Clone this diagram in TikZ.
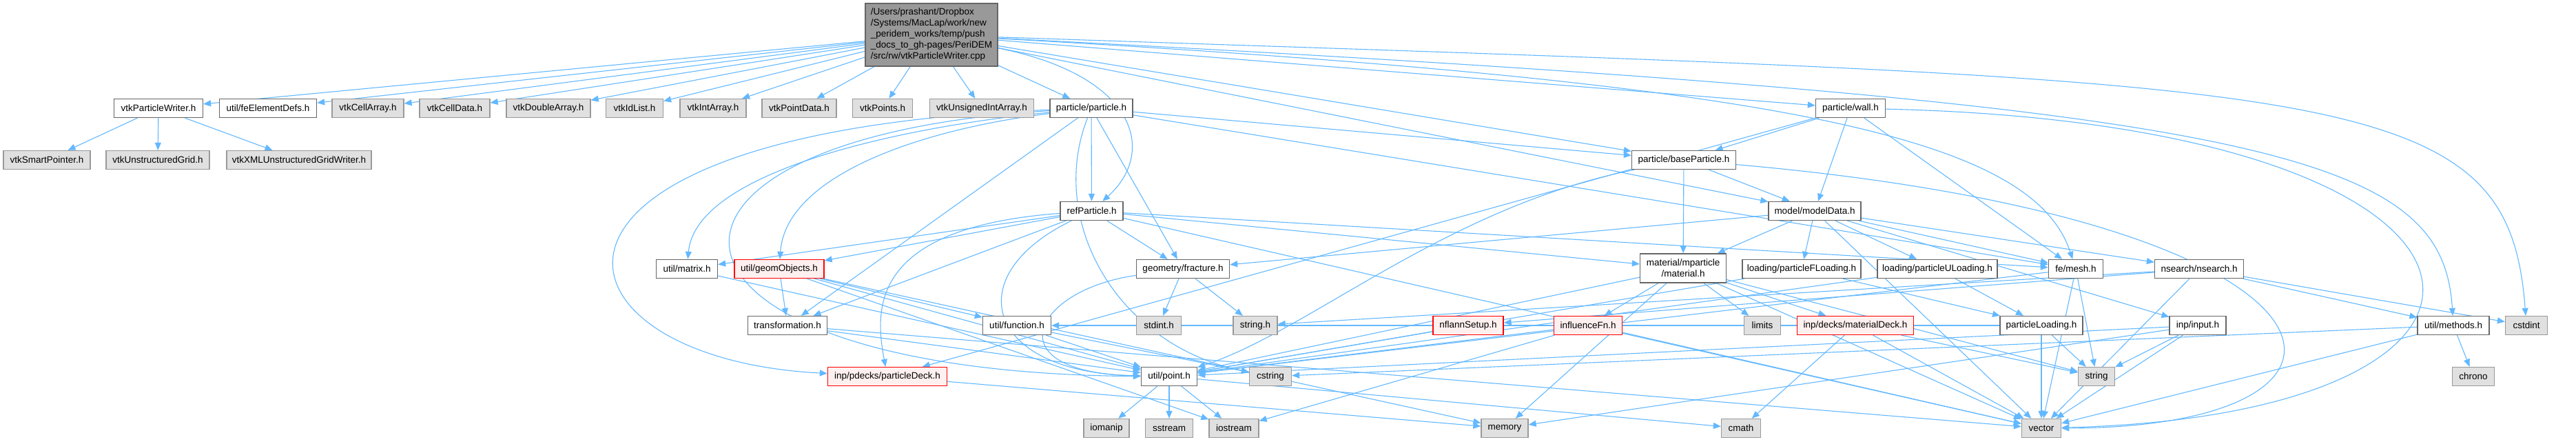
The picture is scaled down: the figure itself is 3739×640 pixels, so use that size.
\documentclass[tikz,border=0pt]{standalone}
\usepackage{fontspec}
\setmainfont{Liberation Sans}
\usetikzlibrary{arrows.meta,backgrounds}
\definecolor{edgec}{HTML}{63B8FF}
\definecolor{nodeborder}{HTML}{666666}
\definecolor{grayborder}{HTML}{999999}
\definecolor{grayfill}{HTML}{E0E0E0}
\definecolor{redfill}{HTML}{FFF0F0}
\definecolor{mainfill}{HTML}{999999}
\begin{document}
\begin{tikzpicture}[x=1pt,y=-1pt,
  nb/.style={draw=nodeborder, fill=white, line width=1.3pt, minimum height=27pt, inner sep=0pt, font=\fontsize{13.5}{16}\selectfont, text=black},
  gb/.style={nb, draw=grayborder, fill=grayfill},
  rb/.style={nb, draw=red, fill=redfill},
  e/.style={draw=edgec, line width=1.1pt, -{Triangle[length=11pt,width=9pt]}}]
\useasboundingbox (0,0) rectangle (3739,640);

% row 0
\node[nb, fill=mainfill, minimum width=192pt, minimum height=91pt, align=left] (main) at (1352,50.5)
 {/Users/prashant/Dropbox\\/Systems/MacLap/work/new\\\_peridem\_works/temp/push\\\_docs\_to\_gh-pages/PeriDEM\\/src/rw/vtkParticleWriter.cpp};
% row 1
\node[nb, minimum width=129pt] (vpw) at (230,157) {vtkParticleWriter.h};
\node[nb, minimum width=141pt] (fed) at (389,157) {util/feElementDefs.h};
\node[gb, minimum width=104pt] (vca) at (534,157) {vtkCellArray.h};
\node[gb, minimum width=102pt] (vcd) at (660,157) {vtkCellData.h};
\node[gb, minimum width=122pt] (vda) at (796,157) {vtkDoubleArray.h};
\node[gb, minimum width=83pt] (vil) at (921,157) {vtkIdList.h};
\node[gb, minimum width=96pt] (via) at (1035,157) {vtkIntArray.h};
\node[gb, minimum width=108pt] (vpd) at (1160,157) {vtkPointData.h};
\node[gb, minimum width=87pt] (vps) at (1281,157) {vtkPoints.h};
\node[gb, minimum width=151pt] (vuia) at (1425,157) {vtkUnsignedIntArray.h};
\node[nb, minimum width=120pt] (part) at (1584,157) {particle/particle.h};
\node[nb, minimum width=101pt] (wall) at (2686,157) {particle/wall.h};
% row 2
\node[gb, minimum width=126pt] (vsp) at (68,232) {vtkSmartPointer.h};
\node[gb, minimum width=150pt] (vug) at (229,232) {vtkUnstructuredGrid.h};
\node[gb, minimum width=210pt] (vxml) at (434,232) {vtkXMLUnstructuredGridWriter.h};
\node[nb, minimum width=151pt] (base) at (2444,232) {particle/baseParticle.h};
% row 3
\node[nb, minimum width=91pt] (ref) at (1584.5,306) {refParticle.h};
\node[nb, minimum width=134pt] (model) at (2634,306) {model/modelData.h};
% row 4
\node[nb, minimum width=89pt] (matrix) at (997,390) {util/matrix.h};
\node[rb, minimum width=130pt] (geom) at (1131,390) {util/geomObjects.h};
\node[nb, minimum width=135pt] (frac) at (1717,390) {geometry/fracture.h};
\node[nb, minimum width=125pt, minimum height=42pt, align=center] (mat) at (2443,389) {material/mparticle\\/material.h};
\node[nb, minimum width=172pt] (pfl) at (2615,390) {loading/particleFLoading.h};
\node[nb, minimum width=174pt] (pul) at (2812,390) {loading/particleULoading.h};
\node[nb, minimum width=79pt] (mesh) at (3013,390) {fe/mesh.h};
\node[nb, minimum width=129pt] (nsearch) at (3192,390) {nsearch/nsearch.h};
% row 5
\node[nb, minimum width=115pt] (trans) at (1143,472) {transformation.h};
\node[nb, minimum width=99pt] (func) at (1476,472) {util/function.h};
\node[gb, minimum width=65pt] (stdint) at (1682,472) {stdint.h};
\node[gb, minimum width=64pt] (stringh) at (1822,472) {string.h};
\node[rb, minimum width=102pt] (nflann) at (2131,472) {nflannSetup.h};
\node[rb, minimum width=99pt] (infl) at (2305,472) {influenceFn.h};
\node[gb, minimum width=53pt] (limits) at (2558,472) {limits};
\node[rb, minimum width=169pt] (matdeck) at (2693,472) {inp/decks/materialDeck.h};
\node[nb, minimum width=120pt] (ploading) at (2963,472) {particleLoading.h};
\node[nb, minimum width=82pt] (input) at (3190,472) {inp/input.h};
\node[nb, minimum width=104pt] (methods) at (3561,472) {util/methods.h};
\node[gb, minimum width=61pt] (cstdint) at (3667,472) {cstdint};
% row 6
\node[rb, minimum width=173pt] (pdeck) at (1288,546) {inp/pdecks/particleDeck.h};
\node[nb, minimum width=81pt] (point) at (1697,546) {util/point.h};
\node[gb, minimum width=61pt] (cstring) at (1844,546) {cstring};
\node[gb, minimum width=53pt] (string) at (3043,546) {string};
\node[gb, minimum width=61pt] (chrono) at (3590,546) {chrono};
% row 7
\node[gb, minimum width=66pt] (iomanip) at (1606,621) {iomanip};
\node[gb, minimum width=69pt] (sstream) at (1697,621) {sstream};
\node[gb, minimum width=72pt] (iostream) at (1791,621) {iostream};
\node[gb, minimum width=68pt] (memory) at (2184,621) {memory};
\node[gb, minimum width=57pt] (cmath) at (2527,621) {cmath};
\node[gb, minimum width=57pt] (vector) at (2963,621) {vector};

\begin{scope}[on background layer]
\foreach \a/\b in {vpw/vsp, vpw/vug, vpw/vxml,
  main/vpw, main/fed, main/vca, main/vcd, main/vda, main/vil, main/via, main/vpd, main/vps, main/vuia,
  main/part, main/base, main/wall, main/model,
  part/ref, part/base, part/frac, part/trans, part/mesh,
  ref/matrix, ref/geom, ref/trans, ref/frac, ref/vector, ref/mat, ref/mesh,
  base/mat, base/model,
  wall/base, wall/model, wall/mesh, wall/pdeck,
  model/mat, model/pfl, model/pul, model/mesh, model/nsearch, model/input, model/frac, model/vector,
  mat/infl, mat/memory, mat/limits, mat/matdeck, mat/point, mat/string, mat/vector,
  frac/stdint, frac/stringh,
  geom/trans, geom/func, geom/point, geom/iostream, geom/memory,
  matrix/point, trans/point, trans/vector, func/point, func/cstring,
  pfl/ploading, pfl/point, pul/ploading, pul/point,
  ploading/string, ploading/vector, ploading/func,
  mesh/string, mesh/vector, mesh/point,
  nsearch/nflann, nsearch/methods, nsearch/cstdint, nsearch/vector, nsearch/stringh,
  nflann/point, infl/point, infl/iostream, infl/vector,
  matdeck/cmath, matdeck/vector, matdeck/string,
  input/string, input/vector, input/memory, input/point,
  methods/chrono, methods/vector, methods/cstring,
  point/iomanip, point/sstream, point/iostream, point/cmath,
  pdeck/memory}
  \draw[e] (\a) -- (\b);
% curved edges
\draw[e] (main) .. controls (1650,110) and (1680,220) .. (ref);
\draw[e] (main) .. controls (2600,120) and (2950,200) .. (mesh);
\draw[e] (main) .. controls (3300,150) and (3545,220) .. (methods);
\draw[e] (main) .. controls (3400,120) and (3640,110) .. (cstdint);
\draw[e] (part) .. controls (1300,185) and (1010,250) .. (matrix);
\draw[e] (part) .. controls (1320,190) and (1140,260) .. (geom);
\draw[e] (part) .. controls (700,190) and (780,520) .. (pdeck);
\draw[e] (part) .. controls (870,200) and (900,540) .. (point);
\draw[e] (part) .. controls (1520,320) and (1620,500) .. (cstring);
\draw[e] (ref) .. controls (1390,400) and (1430,540) .. (point);
\draw[e] (ref) .. controls (1260,330) and (1270,450) .. (pdeck);
\draw[e] (frac) .. controls (1500,420) and (1440,540) .. (point);
\draw[e] (base) .. controls (3450,320) and (3500,620) .. (vector);
\draw[e] (wall) .. controls (3700,180) and (3750,600) .. (vector);
\draw[e] (base) .. controls (2100,300) and (1900,480) .. (point);
\end{scope}
\end{tikzpicture}
\end{document}
